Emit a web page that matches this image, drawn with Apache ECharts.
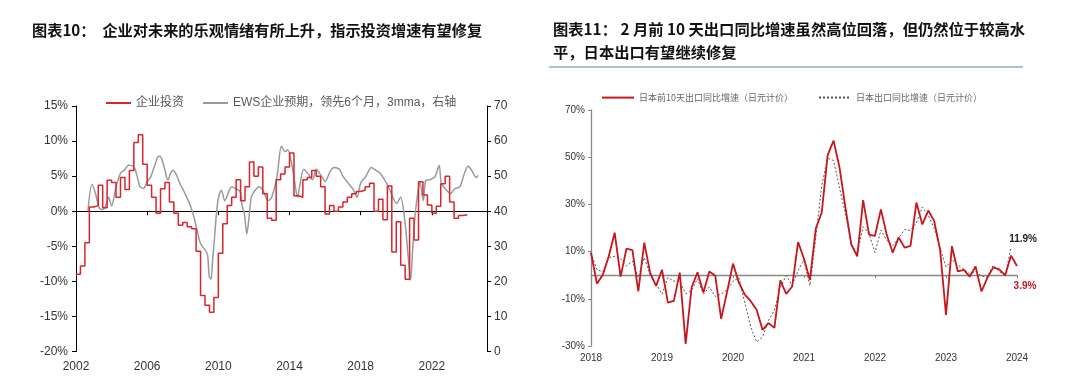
<!DOCTYPE html>
<html><head><meta charset="utf-8">
<script src="https://cdn.jsdelivr.net/npm/echarts@6/dist/echarts.min.js"></script>
<style>html,body{margin:0;padding:0;background:#fff}#c{width:1080px;height:380px}</style>
</head><body><div id="c"></div>
<script>
// ---------- Left chart (图表10) ----------
const leftXTicks = [2002, 2006, 2010, 2014, 2018, 2022];
const leftYTicks = [-20, -15, -10, -5, 0, 5, 10, 15];
const rightYTicks = [0, 10, 20, 30, 40, 50, 60, 70];
// 企业投资, quarterly, 2002Q1 ...
const investStart = 2002;
const invest = [
  -9.0, -7.8, -4.5, 0.6,
  0.8, 3.7, 0.5, 4.4,
  4.1, 2.0, 4.8, 3.1,
  5.8, 9.8, 10.9, 6.7,
  3.7, 2.0, -0.3, 3.2,
  4.1, 1.3, -0.3, -2.0,
  -1.6, -2.2, -2.5, -5.7,
  -12.0, -13.4, -14.4, -12.3,
  -6.0, -1.8, 0.8, 2.0,
  4.5, 1.5, 3.5, 7.0,
  5.0, 6.3, 2.5, -1.0,
  -1.3, 4.5, 5.3, 6.3,
  8.3, 2.2, 2.0, 4.5,
  4.8, 5.8, 5.0, 3.5,
  -0.4, 0.8, 0.0, 0.6,
  1.3, 2.0, 2.5, 2.8,
  3.0, 3.5, 4.0, 0.0,
  1.7, -1.2, 3.6, -5.8,
  -1.5, -7.7, -9.7, -1.0,
  -4.1, 4.2, 2.3, 0.9,
  -0.3, 0.7, 3.9, 5.0,
  1.3, -1.0, -0.6, -0.5,
  -0.5
];
// EWS企业预期 (右轴): sample dates and values
const ewsDates = [2002.67,2002.9,2003.1,2003.3,2003.5,2003.67,2003.83,2004.0,2004.25,2004.5,2004.75,2004.95,2005.15,2005.3,2005.42,2005.6,2005.8,2006.0,2006.2,2006.4,2006.6,2006.72,2006.87,2007.0,2007.16,2007.32,2007.45,2007.65,2007.84,2008.13,2008.42,2008.62,2008.81,2009.0,2009.3,2009.4,2009.49,2009.59,2009.68,2009.78,2009.88,2009.98,2010.07,2010.17,2010.36,2010.62,2010.75,2010.95,2011.24,2011.33,2011.47,2011.6,2011.72,2011.85,2012.0,2012.3,2012.5,2012.8,2013.0,2013.3,2013.55,2013.75,2013.9,2014.1,2014.3,2014.45,2014.6,2014.8,2015.0,2015.3,2015.5,2015.8,2016.0,2016.3,2016.5,2016.8,2017.0,2017.3,2017.6,2017.8,2018.0,2018.3,2018.6,2018.9,2019.08,2019.4,2019.64,2020.02,2020.24,2020.48,2020.67,2020.8,2020.92,2021.05,2021.18,2021.33,2021.52,2021.66,2021.89,2022.17,2022.41,2022.54,2022.82,2023.05,2023.29,2023.57,2023.86,2024.04,2024.23,2024.51,2024.6];
const ewsValues = [40,47.7,45,41,40.5,41.5,44,41.5,47,50.8,51.9,53.1,53,52.2,50.3,47,46.5,48.4,49.8,52.7,55.5,55.7,54.1,51.7,48.9,50.8,51.7,50.3,47.9,45,41.7,38.4,34.6,30.8,28.6,27.4,21.4,20.6,26.2,32,38.6,43.1,45,46,43,46,47,46.5,45.5,41.7,39,33.5,38,44,45.5,47,46,43,44,50,58.5,57,57.5,54,48,44,48,52,51,49,52,50,48.5,51.5,52.5,52,50,48,46,44,48,50,52.5,51.5,50.9,48.5,46,42.2,44,37.4,27,20.4,29,38.4,44,48.3,43,48.8,49,49.8,53,47.9,46,45,46.4,47,51.2,52.8,51.7,49.6,50.2];

// ---------- Right chart (图表11) ----------
const monthStartYear = 2018;
const rightXTicks = [0, 12, 24, 36, 48, 60, 72];
const rightYLabelTicks = [-30, -10, 10, 30, 50, 70];
// 日本前10天出口同比增速（日元计价）, monthly from the 2018 position
const first10 = [
  9.5, -3.6, 0.2, 8, 18, -0.6, 11.3, 10.6, -6.9, 13.8, 1, -4.5,
  2.3, -11.6, -10.9, 1.1, -29.1, -5.2, 1.2, -7.3, 1.6, -0.2, -18.5, -7,
  4.9, -3.2, -8.2, -11, -14.6, -23.2, -20.3, -22.3, -2.2, -7.9, -4.8, 14,
  7, -2, 19.8, 26.6, 50.9, 57, 45.7, 28.7, 13, 8, 31.8, 17.2,
  16.7, 27.9, 17, 9.5, 16, 11.7, 12.4, 30.8, 21.5, 27.4, 23, 10.8,
  -16.8, 12.3, 1.6, 2.3, -0.6, 3.7, -6.9, -1, 3.3, 2.5, 0, 8.3, 3.9
];
// 日本出口同比增速（日元计价）
const fullMonth = [
  9.5, 2.3, 1.5, 7.5, 8, 7, 4, 6, -1, 7.5, 0, -3.8,
  -8, -1, -2.5, -2.5, -7.8, -6.5, -1.5, -8, -5, -9, -8, -6.3,
  -2.6, -1, -11.7, -21.9, -28.3, -26.2, -19.2, -14.8, -5, -0.2, -4.2, 2,
  6.4, -4.5, 16.1, 38, 49.6, 48.6, 37, 26.2, 13, 9.4, 20.5, 17.5,
  9.6, 19.1, 14.7, 12.5, 15.8, 19.3, 19, 22.1, 28.9, 25.3, 20, 11.5,
  3.5, 6.5, 4.3, 2.6, 0.6, 1.5, -0.3, -0.8, 4.3, 1.6, -0.2, 11.9
];

const FONT = "'Liberation Sans','Noto Sans CJK SC',sans-serif";
const CJK = "'Noto Sans CJK SC',sans-serif";
const RED_L = '#D8262C', GRAY_L = '#9A9A9A', RED_R = '#C8161D';

const investData = invest.map((v, i) => [investStart + i * 0.25, v]);
const ewsData = ewsDates.map((d, i) => [d, ewsValues[i]]);
const first10Data = first10.map((v, i) => {
  const item = { value: [i, v] };
  if (i === first10.length - 1) {
    item.label = { show: true, position: 'bottom', distance: 15, offset: [8, 0],
      formatter: p => p.value[1].toFixed(1) + '%', color: RED_R, fontWeight: 'bold', fontSize: 10, fontFamily: FONT };
  }
  return item;
});
const fullData = fullMonth.map((v, i) => {
  const item = { value: [i, v] };
  if (i === fullMonth.length - 1) {
    item.label = { show: true, position: 'top', distance: 3, offset: [12, 0],
      formatter: p => p.value[1].toFixed(1) + '%', color: '#222', fontWeight: 'bold', fontSize: 10, fontFamily: FONT };
  }
  return item;
});

const chart = echarts.init(document.getElementById('c'), null, { renderer: 'canvas' });
chart.setOption({
  animation: false,
  backgroundColor: '#fff',
  textStyle: { fontFamily: FONT },
  title: [
    { text: '图表10：  企业对未来的乐观情绪有所上升，指示投资增速有望修复', left: 27, top: 14,
      textStyle: { fontSize: 15.2, fontWeight: 'bold', color: '#111', fontFamily: CJK, lineHeight: 22 } },
    { text: '图表11： 2 月前 10 天出口同比增速虽然高位回落，但仍然位于较高水\n平，日本出口有望继续修复', left: 548, top: 13,
      textStyle: { fontSize: 15.3, fontWeight: 'bold', color: '#111', fontFamily: CJK, lineHeight: 23 } }
  ],
  graphic: [
    { type: 'line', shape: { x1: 549, y1: 67, x2: 1023, y2: 67 }, style: { stroke: '#8FAACB', lineWidth: 1.5 } }
  ],
  legend: [
    { left: 100, top: 92, itemWidth: 25, itemHeight: 14, itemGap: 18, itemStyle: { opacity: 0 },
      textStyle: { fontSize: 12, color: '#595959', fontFamily: FONT },
      data: ['企业投资', 'EWS企业预期，领先6个月，3mma，右轴'] },
    { left: 596, top: 87, itemWidth: 32, itemHeight: 14, itemGap: 25, itemStyle: { opacity: 0 },
      textStyle: { fontSize: 9, color: '#666', fontFamily: CJK },
      data: ['日本前10天出口同比增速（日元计价）', '日本出口同比增速（日元计价）'] }
  ],
  grid: [
    { left: 76, right: 593, top: 106, bottom: 28.5 },
    { left: 591, right: 63, top: 110, bottom: 34 }
  ],
  xAxis: [
    { type: 'value', gridIndex: 0, min: 2002, max: 2025.1, position: 'bottom',
      axisLine: { show: false, onZero: false }, axisTick: { show: false }, splitLine: { show: false },
      axisLabel: { customValues: leftXTicks, formatter: v => String(v), fontSize: 12, color: '#333', margin: 9 } },
    { type: 'value', gridIndex: 0, min: 2002, max: 2025.1, position: 'bottom',
      axisLine: { show: true, onZero: true, onZeroAxisIndex: 0, lineStyle: { color: '#000', width: 1 } },
      axisTick: { show: true, customValues: leftXTicks, length: 4, lineStyle: { color: '#000' } },
      axisLabel: { show: false }, splitLine: { show: false } },
    { type: 'value', gridIndex: 1, min: 0, max: 72, position: 'bottom',
      axisLine: { show: false, onZero: false }, axisTick: { show: false }, splitLine: { show: false },
      axisLabel: { customValues: rightXTicks, formatter: v => String(monthStartYear + v / 12), fontSize: 10, color: '#333', margin: 7 } },
    { type: 'value', gridIndex: 1, min: 0, max: 72, position: 'bottom',
      axisLine: { show: true, onZero: true, onZeroAxisIndex: 2, lineStyle: { color: '#888', width: 1.3 } },
      axisTick: { show: true, customValues: rightXTicks, length: 3, lineStyle: { color: '#888' } },
      axisLabel: { show: false }, splitLine: { show: false } }
  ],
  yAxis: [
    { type: 'value', gridIndex: 0, min: -20, max: 15, position: 'left',
      axisLine: { show: true, lineStyle: { color: '#000', width: 1 } },
      axisTick: { show: true, customValues: leftYTicks, length: 4, lineStyle: { color: '#000' } },
      axisLabel: { customValues: leftYTicks, formatter: v => v + '%', fontSize: 12, color: '#333', margin: 8 },
      splitLine: { show: false } },
    { type: 'value', gridIndex: 0, min: 0, max: 70, position: 'right',
      axisLine: { show: true, lineStyle: { color: '#000', width: 1 } },
      axisTick: { show: true, customValues: rightYTicks, length: 4, lineStyle: { color: '#000' } },
      axisLabel: { customValues: rightYTicks, fontSize: 12, color: '#333', margin: 7 },
      splitLine: { show: false } },
    { type: 'value', gridIndex: 1, min: -30, max: 70, position: 'left',
      axisLine: { show: true, lineStyle: { color: '#888', width: 1.3 } },
      axisTick: { show: true, customValues: rightYLabelTicks, length: 3, lineStyle: { color: '#888' } },
      axisLabel: { customValues: rightYLabelTicks, formatter: v => v + '%', fontSize: 10, color: '#333', margin: 6 },
      splitLine: { show: false } }
  ],
  series: [
    { name: '企业投资', type: 'line', xAxisIndex: 0, yAxisIndex: 0, step: 'end', data: investData,
      symbol: 'none', lineStyle: { color: RED_L, width: 1.5 }, itemStyle: { color: RED_L }, z: 3 },
    { name: 'EWS企业预期，领先6个月，3mma，右轴', type: 'line', xAxisIndex: 0, yAxisIndex: 1, data: ewsData,
      smooth: 0.3, symbol: 'none', lineStyle: { color: GRAY_L, width: 1.5 }, itemStyle: { color: GRAY_L }, z: 2 },
    { name: '日本前10天出口同比增速（日元计价）', type: 'line', xAxisIndex: 2, yAxisIndex: 2, data: first10Data,
      symbol: 'circle', symbolSize: 0, showSymbol: true, lineStyle: { color: RED_R, width: 1.8 }, itemStyle: { color: RED_R }, z: 3 },
    { name: '日本出口同比增速（日元计价）', type: 'line', xAxisIndex: 2, yAxisIndex: 2, data: fullData,
      symbol: 'circle', symbolSize: 0, showSymbol: true, lineStyle: { color: '#555', width: 1, type: [2, 2] }, itemStyle: { color: '#555' }, z: 2 }
  ]
});
</script></body></html>
